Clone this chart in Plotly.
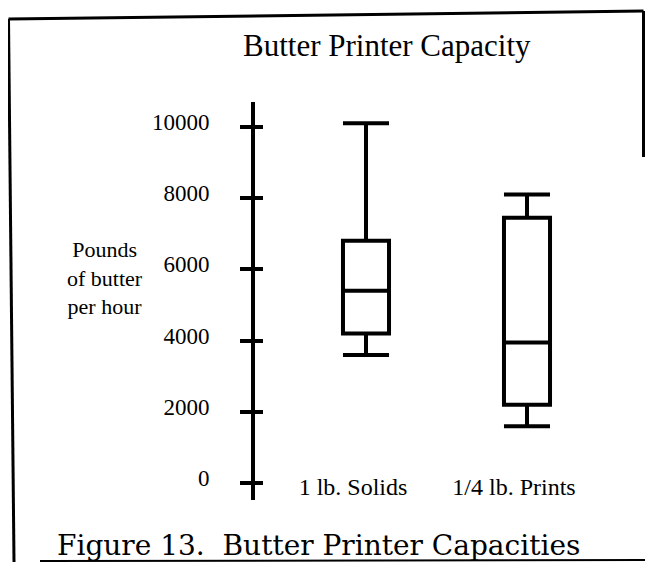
import plotly.graph_objects as go

# ---- data ----
categories = ["1 lb. Solids", "1/4 lb. Prints"]
lower_whisker = [3600, 1600]
q1_values = [4200, 2200]
medians = [5400, 3950]
q3_values = [6800, 7450]
upper_whisker = [10100, 8100]
y_tick_values = [0, 2000, 4000, 6000, 8000, 10000]
y_tick_labels = ["0", "2000", "4000", "6000", "8000", "10000"]
chart_title = "Butter Printer Capacity"
y_axis_label = "Pounds<br>of butter<br>per hour"
caption = "Figure 13.&nbsp; Butter Printer Capacities"

# page offset caused by the default 8px body margin
OFF = 8
W, H = 653 - 2 * OFF, 570 - 2 * OFF
def px(x):
    return (x - OFF) / W
def py(y):
    return 1 - (y - OFF) / H

SERIF = "Liberation Serif, Times New Roman, serif"

fig = go.Figure()
for i, cat in enumerate(categories):
    fig.add_trace(go.Box(
        x=[cat],
        q1=[q1_values[i]], median=[medians[i]], q3=[q3_values[i]],
        lowerfence=[lower_whisker[i]], upperfence=[upper_whisker[i]],
        fillcolor="white",
        line=dict(color="black", width=4),
        width=0.286, whiskerwidth=1,
        boxpoints=False, showlegend=False, hoverinfo="skip",
    ))

# invisible trace to carry the right-side tick marks axis
fig.add_trace(go.Scatter(x=[categories[0]], y=[None], yaxis="y2",
                         mode="markers", showlegend=False, hoverinfo="skip"))

# x range so that category 0 sits at page x=366 and category 1 at 527
unit = 161.0
x_lo = (OFF - 366) / unit
x_hi = (OFF + W - 366) / unit

axis_x = px(253)
fig.update_layout(
    width=W, height=H,
    margin=dict(l=0, r=0, t=0, b=0),
    paper_bgcolor="white", plot_bgcolor="white",
    xaxis=dict(
        type="category", categoryorder="array", categoryarray=categories,
        range=[x_lo, x_hi], domain=[0, 1],
        anchor="free", position=py(470),
        showline=False, showgrid=False, zeroline=False, ticks="",
        ticklabelshift=-13,
        tickfont=dict(family=SERIF, size=24, color="black"),
    ),
    yaxis=dict(
        range=[-468, 10693], domain=[py(500), py(102)],
        anchor="free", position=axis_x,
        showline=True, linecolor="black", linewidth=4,
        showgrid=False, zeroline=False,
        tickvals=y_tick_values, ticktext=y_tick_labels,
        ticks="outside", ticklen=11, tickwidth=4, tickcolor="black",
        ticklabelstandoff=26, ticklabelshift=-5,
        tickfont=dict(family=SERIF, size=23, color="black"),
    ),
    yaxis2=dict(
        matches="y", overlaying="y", anchor="free", position=axis_x,
        showline=False, showgrid=False, zeroline=False,
        tickvals=y_tick_values, showticklabels=False,
        ticks="inside", ticklen=9, tickwidth=4, tickcolor="black",
    ),
    annotations=[
        dict(text=chart_title, x=px(387), y=py(45), xref="paper", yref="paper",
             showarrow=False, xanchor="center", yanchor="middle",
             font=dict(family=SERIF, size=31, color="black")),
        dict(text=y_axis_label, x=px(105), y=py(278), xref="paper", yref="paper",
             showarrow=False, xanchor="center", yanchor="middle", align="center",
             font=dict(family=SERIF, size=22, color="black")),
        dict(text=caption, x=px(55), y=py(545), xref="paper", yref="paper",
             showarrow=False, xanchor="left", yanchor="middle",
             font=dict(family="DejaVu Serif, serif", size=28, color="black")),
    ],
    shapes=[
        dict(type="line", xref="paper", yref="paper", x0=px(8.5), y0=py(19), x1=px(643.5), y1=py(11),
             line=dict(color="black", width=3)),
        dict(type="line", xref="paper", yref="paper", x0=px(643.5), y0=py(11), x1=px(643.5), y1=py(157),
             line=dict(color="black", width=3)),
        dict(type="line", xref="paper", yref="paper", x0=px(8.5), y0=py(19), x1=px(14), y1=py(562),
             line=dict(color="black", width=3)),
        dict(type="line", xref="paper", yref="paper", x0=px(40), y0=py(561), x1=px(645), y1=py(560),
             line=dict(color="black", width=2)),
    ],
)

fig.write_html("out.html")
